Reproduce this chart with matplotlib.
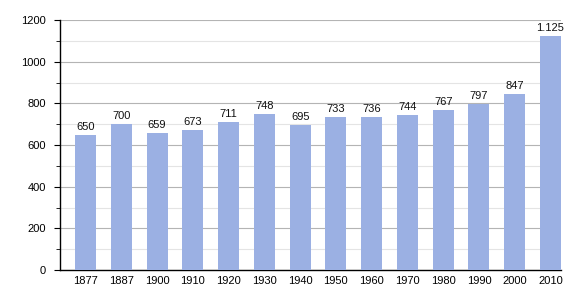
import numpy as np
import matplotlib.pyplot as plt
from matplotlib.ticker import MultipleLocator

plt.rcParams["font.family"] = ["Liberation Sans", "DejaVu Sans"]

years = ["1877", "1887", "1900", "1910", "1920", "1930", "1940",
         "1950", "1960", "1970", "1980", "1990", "2000", "2010"]
population = [650, 700, 659, 673, 711, 748, 695, 733, 736, 744, 767, 797, 847, 1125]
labels = ["650", "700", "659", "673", "711", "748", "695",
          "733", "736", "744", "767", "797", "847", "1.125"]

fig = plt.figure(figsize=(5.8, 3.0), dpi=100)
ax = fig.add_axes([60 / 580, 30 / 300, 501 / 580, 250 / 300])

x = np.arange(len(years))
bw = 0.59
ax.bar(x, population, width=bw, color="#9bb0e3", zorder=3)

for xi, v, lab in zip(x, population, labels):
    ax.text(xi, v + 14, lab, ha="center", va="bottom", fontsize=8, color="#111111")

ax.set_xlim(-0.715, len(years) - 1 + bw / 2)
ax.set_ylim(0, 1200)
ax.yaxis.set_major_locator(MultipleLocator(200))
ax.yaxis.set_minor_locator(MultipleLocator(100))
ax.grid(axis="y", which="major", color="#b4b4b4", linewidth=0.8, zorder=0)
ax.grid(axis="y", which="minor", color="#e4e4e4", linewidth=0.8, zorder=0)

ax.set_xticks(x)
ax.set_xticklabels(years)
ax.tick_params(axis="x", length=0, labelsize=8, pad=4)
ax.tick_params(axis="y", which="major", length=4, labelsize=8, pad=6)
ax.tick_params(axis="y", which="minor", length=3)

for s in ["top", "right"]:
    ax.spines[s].set_visible(False)
ax.spines["left"].set_linewidth(1.0)
ax.spines["bottom"].set_linewidth(1.0)

plt.savefig("out.png", dpi=100)
